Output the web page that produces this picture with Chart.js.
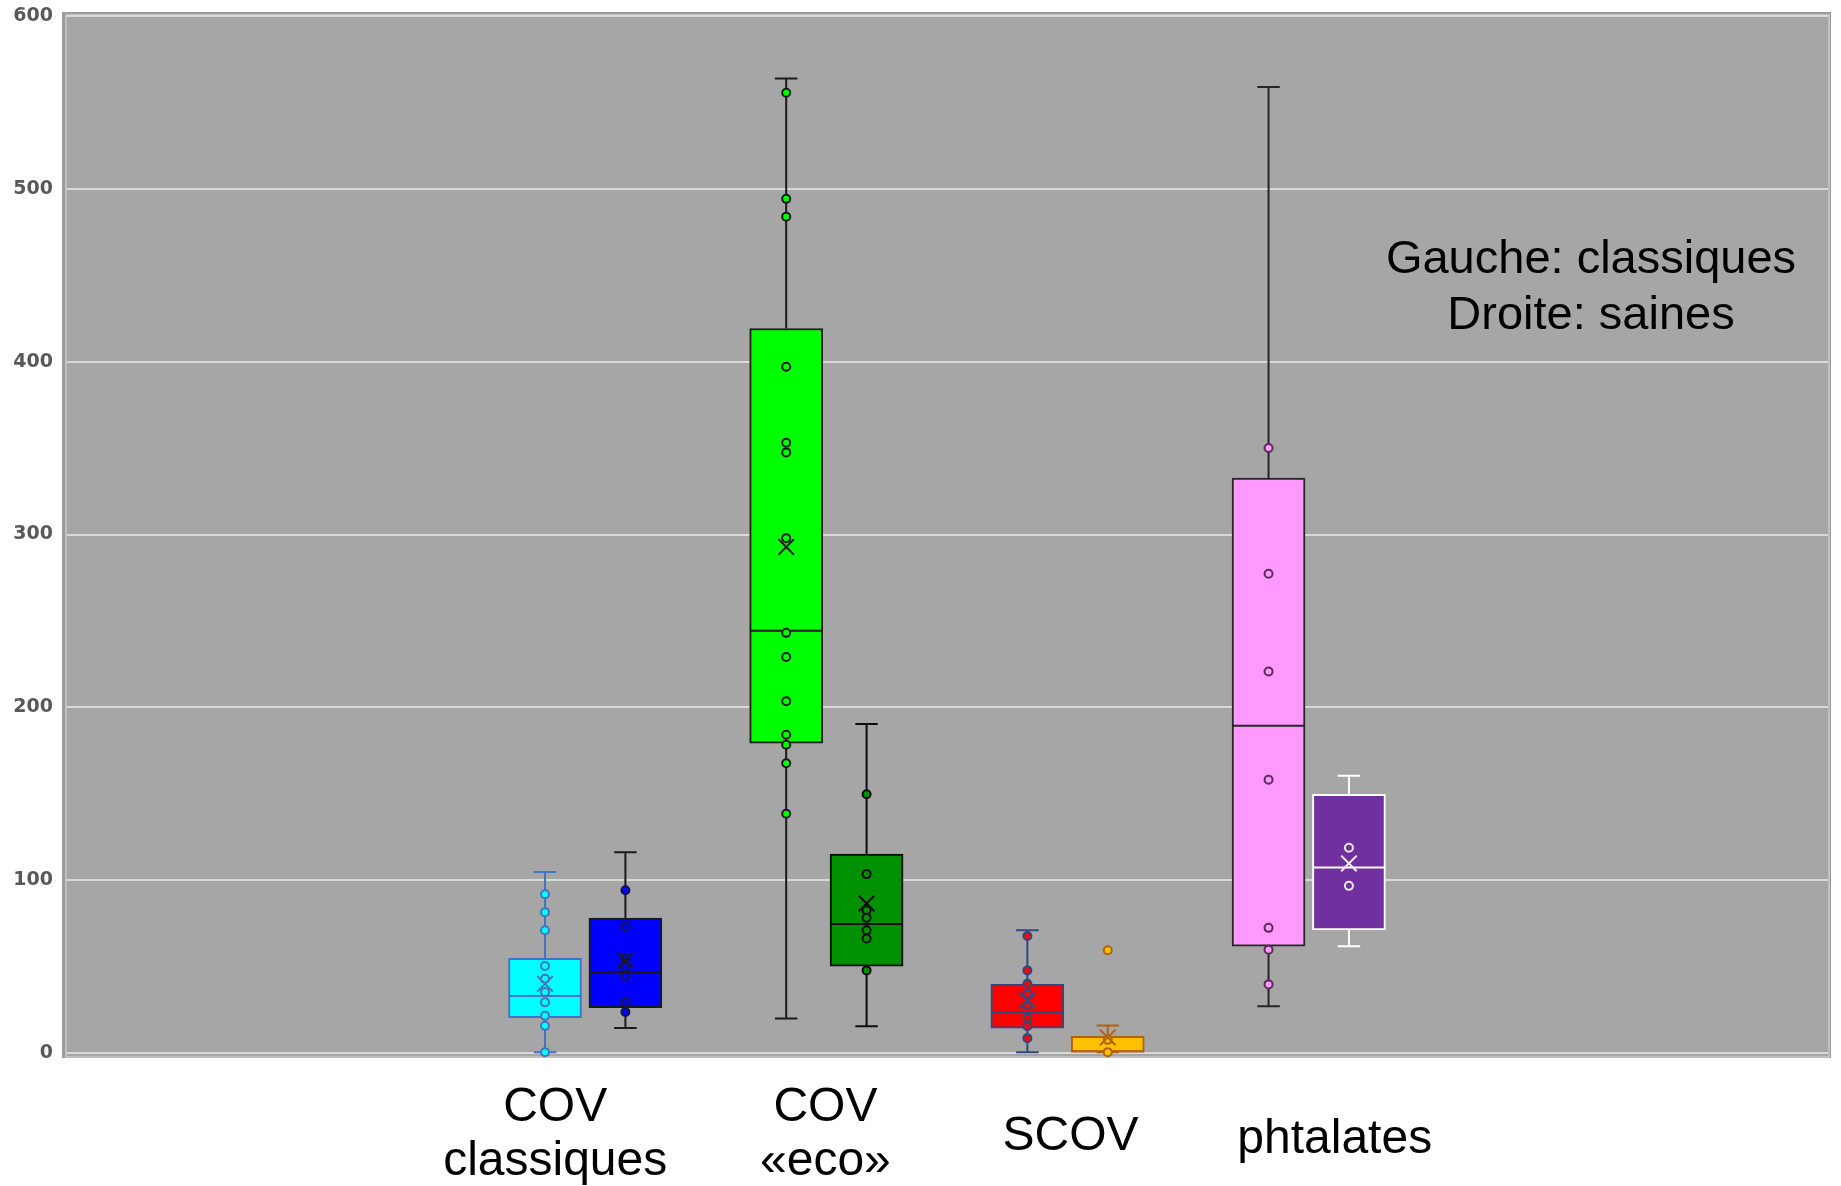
<!DOCTYPE html>
<html>
<head>
<meta charset="utf-8">
<title>COV, SCOV, phtalates</title>
<script src="https://cdn.jsdelivr.net/npm/chart.js@4.4.1/dist/chart.umd.min.js"></script>
<style>
  html, body { margin: 0; padding: 0; background: #ffffff; }
  #wrap { width: 1841px; height: 1186px; position: relative; }
</style>
</head>
<body>
<div id="wrap"><canvas id="boxChart"></canvas></div>
<script>
// DATA - left box of each pair = classiques, right box = saines
const categories = [["COV", "classiques"], ["COV", "«eco»"], ["SCOV"], ["phtalates"]];
const seriesNames = ["COV cl.", "COV sain", "COV eco cl.", "COV eco sain", "SCOV cl.", "SCOV sain", "phtalates cl.", "phtalates sain"];

const whiskerMin = [0.5, 14.4, 20.0, 15.5, 0.5, 0.5, 27.1, 61.8];
const quartile1 = [20.4, 26.2, 179.2, 50.2, 14.4, 0.5, 61.8, 71.2];
const medians = [33.0, 46.9, 244.3, 74.7, 23.7, 1.0, 189.4, 107.4];
const quartile3 = [54.8, 78.0, 419.2, 115.1, 39.7, 9.7, 332.6, 149.7];
const whiskerMax = [104.7, 116.1, 563.8, 190.3, 71.0, 15.9, 558.9, 160.4];
const means = [40.0, 53.6, 292.8, 86.5, 30.4, 9.0, null, 109.7];

const pointsCovCl = [91.9, 81.5, 71.0, 50.3, 43.0, 35.3, 29.3, 21.5, 15.7, 0.5];
const pointsCovSain = [94.2, 73.4, 55.0, 49.8, 44.5, 29.5, 23.7];
const pointsEcoCl = [555.6, 494.2, 483.9, 397.1, 353.1, 347.5, 297.9, 243.1, 229.1, 203.5, 184.1, 178.3, 167.6, 138.4];
const pointsEcoSain = [149.7, 103.5, 82.6, 78.2, 71.0, 66.2, 47.8];
const pointsScovCl = [67.7, 47.8, 40.1, 34.3, 27.5, 20.4, 15.5, 8.6];
const pointsScovSain = [59.4, 7.6, 0.5];
const pointsPhtCl = [350.0, 277.3, 220.7, 158.1, 72.4, 59.8, 39.7];
const pointsPhtSain = [118.8, 96.7];
const allPoints = [pointsCovCl, pointsCovSain, pointsEcoCl, pointsEcoSain, pointsScovCl, pointsScovSain, pointsPhtCl, pointsPhtSain];

const yTicks = [0, 100, 200, 300, 400, 500, 600];

// STYLE
const boxFill = ["#00ffff", "#0000ff", "#00ff00", "#009100", "#ff0000", "#ffc000", "#ff99ff", "#7030a0"];
const boxEdge = ["#4472c4", "#1a1a1a", "#1a1a1a", "#0d0d0d", "#2f4b7c", "#b3610f", "#262626", "#ffffff"];
const dotEdge = ["#4472c4", "#14144a", "#1a1a1a", "#0d0d0d", "#2f4b7c", "#b3610f", "#5b2a5b", "#e8e8e8"];

const BOX_HALF = 0.4525;   // half box width, in slot units
const CAP_HALF = 0.14;     // half whisker cap width

// series i sits in slot (group * 3 + side), one empty slot between groups
function slotOf(i) {
    return Math.floor(i / 2) * 3 + (i % 2);
}

// BOXES
const boxDataset = {
    type: "bar",
    label: "boxes",
    data: seriesNames.map((n, i) => ({ x: slotOf(i), y: [quartile1[i], quartile3[i]] })),
    backgroundColor: boxFill,
    borderColor: boxEdge,
    borderWidth: 2,
    borderSkipped: false,
    barThickness: 73,
    order: 4,
    clip: false
};

// WHISKERS + MEDIAN
const lineDatasets = seriesNames.map((n, i) => {
    const x = slotOf(i);
    const gap = { x: x, y: null };
    return {
        type: "line",
        label: n + " whiskers",
        data: [
            { x: x, y: whiskerMin[i] }, { x: x, y: quartile1[i] }, gap,
            { x: x, y: quartile3[i] }, { x: x, y: whiskerMax[i] }, gap,
            { x: x - CAP_HALF, y: whiskerMin[i] }, { x: x + CAP_HALF, y: whiskerMin[i] }, gap,
            { x: x - CAP_HALF, y: whiskerMax[i] }, { x: x + CAP_HALF, y: whiskerMax[i] }, gap,
            { x: x - BOX_HALF, y: medians[i] }, { x: x + BOX_HALF, y: medians[i] }
        ],
        borderColor: boxEdge[i],
        borderWidth: 2,
        pointRadius: 0,
        spanGaps: false,
        fill: false,
        order: 3,
        clip: false
    };
});

// INNER POINTS / OUTLIERS
const pointDatasets = allPoints.map((vals, i) => ({
    type: "scatter",
    label: seriesNames[i] + " points",
    data: vals.map(v => ({ x: slotOf(i), y: v })),
    backgroundColor: boxFill[i],
    borderColor: dotEdge[i],
    borderWidth: 2,
    pointRadius: 4,
    order: 2,
    clip: false
}));

// MEAN MARKERS
const meanIdx = seriesNames.map((n, i) => i).filter(i => means[i] !== null);
const meanDataset = {
    type: "scatter",
    label: "means",
    data: meanIdx.map(i => ({ x: slotOf(i), y: means[i] })),
    pointStyle: "crossRot",
    pointRadius: 11,
    borderWidth: 2,
    borderColor: meanIdx.map(i => dotEdge[i] === "#e8e8e8" ? "#f0f0f0" : boxEdge[i]),
    order: 1,
    clip: false
};

// PLOT AREA BACKGROUND
const plotBackground = {
    id: "plotBackground",
    beforeDraw(chart) {
        const { ctx, chartArea: a } = chart;
        ctx.save();
        ctx.fillStyle = "#9c9c9c";
        ctx.fillRect(a.left - 5, a.top - 4, a.right - a.left + 8, a.bottom - a.top + 9);
        ctx.fillStyle = "#a6a6a6";
        ctx.fillRect(a.left - 2, a.top - 2, a.right - a.left + 4, a.bottom - a.top + 6);
        ctx.strokeStyle = "#c9c9c9";
        ctx.lineWidth = 1.5;
        ctx.strokeRect(a.left - 1, a.top - 1, a.right - a.left + 2, a.bottom - a.top + 5);
        ctx.restore();
    }
};

// TEXT: category labels under the groups + the side note
const textLabels = {
    id: "textLabels",
    afterDraw(chart) {
        const { ctx, chartArea: a } = chart;
        const xs = chart.scales.x;
        const nudge = [-30, -1, 3, 26];
        ctx.save();
        ctx.fillStyle = "#000000";
        ctx.textAlign = "center";
        ctx.textBaseline = "alphabetic";
        ctx.font = "48px 'Liberation Sans', Arial, sans-serif";
        categories.forEach((lines, g) => {
            const cx = xs.getPixelForValue(g * 3 + 0.5) + nudge[g];
            if (lines.length === 2) {
                ctx.fillText(lines[0], cx, a.bottom + 68);
                ctx.fillText(lines[1], cx, a.bottom + 122);
            } else {
                ctx.fillText(lines[0], cx, a.bottom + (g === 2 ? 97 : 100));
            }
        });
        ctx.font = "47px 'Liberation Sans', Arial, sans-serif";
        ctx.fillText("Gauche: classiques", chart.width - 250, 273);
        ctx.fillText("Droite: saines", chart.width - 250, 329);
        ctx.restore();
    }
};

// CHART JS CONFIG BLOCK
const configBlock = {
    type: "bar",
    data: {
        datasets: [boxDataset, ...lineDatasets, ...pointDatasets, meanDataset]
    },
    options: {
        responsive: true,
        maintainAspectRatio: false,
        animation: false,
        layout: {
            padding: { left: 0, right: 7, top: 16, bottom: 133 }
        },
        plugins: {
            legend: { display: false },
            tooltip: { enabled: false }
        },
        scales: {
            x: {
                type: "linear",
                display: false,
                offset: false,
                min: -5.946,
                max: 15.959,
                grid: { display: false }
            },
            y: {
                min: 0,
                max: 600,
                afterFit(scale) {
                    scale.width = 67;
                    // let the layout padding alone decide top / bottom of the plot
                    scale.paddingTop = 0;
                    scale.paddingBottom = 0;
                },
                afterBuildTicks(scale) { scale.ticks = yTicks.map(v => ({ value: v })); },
                border: { display: false },
                grid: {
                    color: "#d9d9d9",
                    lineWidth: 2,
                    drawTicks: false
                },
                ticks: {
                    padding: 14,
                    color: "#595959",
                    font: { family: "'DejaVu Sans', Verdana, sans-serif", size: 19, weight: "bold" }
                }
            }
        }
    },
    plugins: [plotBackground, textLabels]
};

// CHART JS RENDER BLOCK
const boxChart = new Chart(document.getElementById("boxChart").getContext("2d"), configBlock);
</script>
</body>
</html>
